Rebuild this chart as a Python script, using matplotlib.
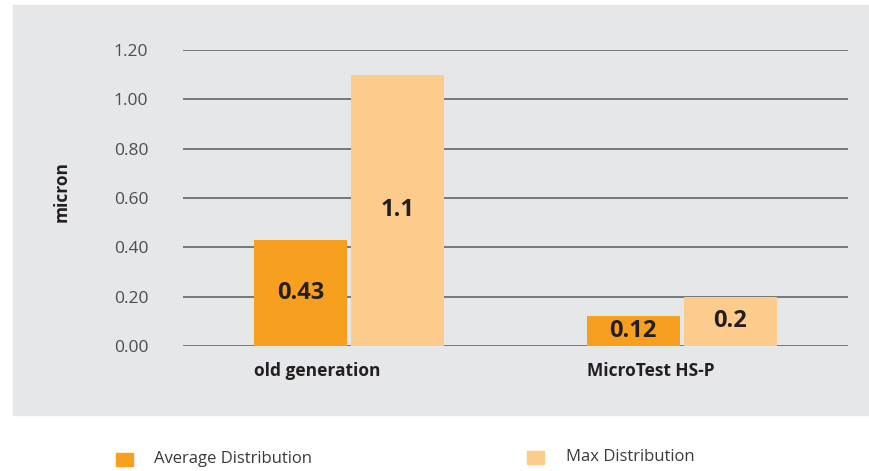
import matplotlib.pyplot as plt
from matplotlib.patches import Rectangle
import numpy as np

categories = ['old generation', 'MicroTest HS-P']
avg_dist = [0.43, 0.12]
max_dist = [1.1, 0.2]
yticks = [0.0, 0.2, 0.4, 0.6, 0.8, 1.0, 1.2]

c_avg = '#f7a01f'
c_max = '#fdcb8b'
bg = '#e6e7e9'

plt.rcParams['font.family'] = ['Open Sans', 'DejaVu Sans']

fig = plt.figure(figsize=(8.69, 4.71), dpi=100)
W, H = 869, 471

# grey panel behind the chart
fig.patches.append(Rectangle((13 / W, 1 - 415 / H), 855 / W, 410 / H,
                             transform=fig.transFigure, color=bg, zorder=-10))

ax = fig.add_axes([183 / W, 1 - 346 / H, 665 / W, 296 / H])
ax.set_facecolor('none')
ax.set_zorder(2)

x = np.arange(len(categories))
w = 0.28
off = 0.146
b1 = ax.bar(x - off, avg_dist, w, color=c_avg, zorder=3)
b2 = ax.bar(x + off, max_dist, w, color=c_max, zorder=3)

for bars, vals in [(b1, avg_dist), (b2, max_dist)]:
    for b, v in zip(bars, vals):
        ax.text(b.get_x() + b.get_width() / 2, v / 2, f'{v:g}',
                ha='center', va='center', fontsize=17, fontweight='bold',
                color='#231f20', zorder=4)

ax.set_xlim(-0.5, 1.5)
ax.set_ylim(0, 1.2)
ax.set_yticks(yticks)
ax.set_yticklabels([f'{t:.2f}' for t in yticks], color='#4d4d4f', fontsize=12.5)
ax.yaxis.grid(True, color='#58595b', linewidth=1.1, zorder=1)
ax.set_axisbelow(True)
ax.tick_params(axis='y', length=0, pad=25)
ax.set_xticks([])
for s in ax.spines.values():
    s.set_visible(False)

# category labels, left aligned on the first bar
for i, c in enumerate(categories):
    ax.text(i - off - w / 2, -0.1, c, ha='left', va='center', fontsize=12.5,
            fontweight='bold', color='#231f20')

fig.text(62 / W, 1 - 192 / H, 'micron', rotation=90, ha='center', va='center',
         fontsize=12.5, fontweight='bold', color='#231f20')

# legend
fig.patches.append(Rectangle((116 / W, 1 - 466 / H), 17 / W, 13 / H,
                             transform=fig.transFigure, color=c_avg))
fig.text(154 / W, 1 - 459 / H, 'Average Distribution', ha='left', va='center',
         fontsize=12, color='#3a3a3c')
fig.patches.append(Rectangle((527 / W, 1 - 464 / H), 17 / W, 13 / H,
                             transform=fig.transFigure, color=c_max))
fig.text(566 / W, 1 - 457 / H, 'Max Distribution', ha='left', va='center',
         fontsize=12, color='#3a3a3c')

fig.savefig('out.png', dpi=100, facecolor='white')
